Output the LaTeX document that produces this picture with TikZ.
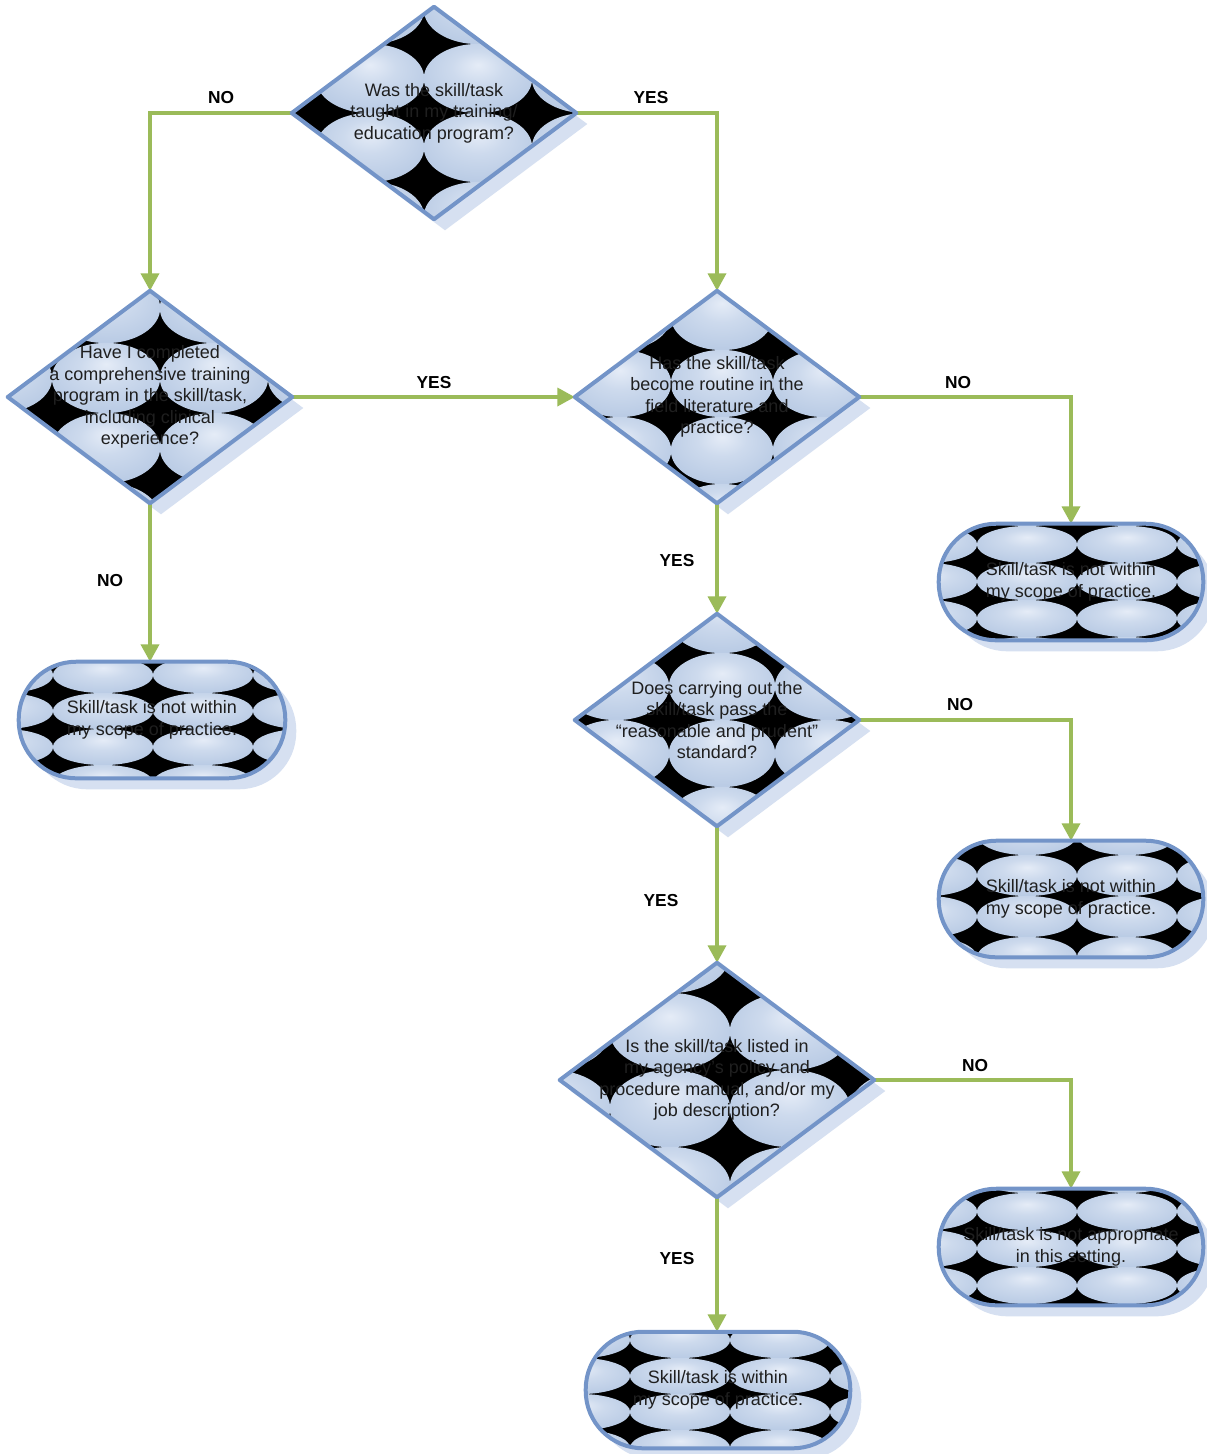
\documentclass[tikz,border=0pt]{standalone}
\usepackage{fontspec}
\setmainfont{Liberation Sans}
\usetikzlibrary{shapes.geometric,arrows.meta,calc}
\definecolor{ellbase}{RGB}{184,202,228}
\definecolor{ellmid}{RGB}{205,218,237}
\definecolor{ellhi}{RGB}{229,236,247}
\definecolor{bordc}{RGB}{115,148,200}
\definecolor{shadc}{RGB}{214,224,241}
\definecolor{flowg}{RGB}{155,187,89}
\pgfdeclareradialshading{ellsh}{\pgfpoint{0bp}{10bp}}{color(0bp)=(ellhi); color(12bp)=(ellmid); color(30bp)=(ellbase); color(50bp)=(ellbase)}
\newcommand\tilegrid[4]{%
  \foreach \i in {-3,...,2}{\foreach \j in {-3,...,2}{%
    \shade[shading=ellsh] ({#1+(\i+0.5)*#3},{#2+(\j+0.5)*#4}) ellipse [x radius={0.502*#3*0.75pt}, y radius={0.502*#4*0.75pt}];
  }}}
\newcommand\dpath[1]{(#1.north) -- (#1.east) -- (#1.south) -- (#1.west) -- cycle}
\newcommand\dshadow[1]{($(#1.north)+(11,11)$) -- ($(#1.east)+(11,11)$) -- ($(#1.south)+(11,11)$) -- ($(#1.west)+(11,11)$) -- cycle}
\newcommand\dfill[5]{%
  \begin{scope}
    \clip \dpath{#1};
    \fill[black] \dpath{#1};
    \tilegrid{#2}{#3}{#4}{#5}
  \end{scope}
  \draw[bord] \dpath{#1};}
\newcommand\tfill[5]{%
  \begin{scope}
    \clip[rounded corners=43pt] (#1.south west) rectangle (#1.north east);
    \fill[black] (#1.south west) rectangle (#1.north east);
    \tilegrid{#2}{#3}{#4}{#5}
  \end{scope}
  \draw[bord, rounded corners=43pt] (#1.south west) rectangle (#1.north east);}
\newcommand\tshadow[1]{\fill[shadc, rounded corners=43pt] ($(#1.south west)+(11,11)$) rectangle ($(#1.north east)+(11,11)$);}
\begin{document}
\begin{tikzpicture}[x=0.75pt, y=-0.75pt,
  dshape/.style={diamond, inner sep=0pt, draw=none, minimum width=213pt, minimum height=159pt},
  bigd/.style={dshape, minimum width=235.5pt, minimum height=175.5pt},
  tshape/.style={rectangle, inner sep=0pt, draw=none, minimum width=198pt, minimum height=87pt},
  bord/.style={draw=bordc, line width=3pt, line join=round},
  conn/.style={draw=flowg, line width=2.6pt, -{Triangle[length=13pt, width=13.5pt]}},
  qtext/.style={align=center, inner sep=0pt, font=\fontsize{13.5pt}{16.1pt}\selectfont, text=black!88},
  lbl/.style={inner sep=0pt, font=\fontsize{13pt}{15pt}\selectfont\bfseries}]
\useasboundingbox (0,0) rectangle (1207,1454);
\fill[white] (0,0) rectangle (1207,1454);
% shape anchors
\node[dshape] (d1) at (434,113) {};
\node[dshape] (d2) at (150,397) {};
\node[dshape] (d3) at (717,397) {};
\node[dshape] (d4) at (717,720) {};
\node[bigd]   (d5) at (717,1080) {};
\node[tshape, minimum width=199.5pt] (t1) at (152,720) {};
\node[tshape] (t2) at (1071,582) {};
\node[tshape] (t3) at (1071,899) {};
\node[tshape] (t4) at (1071,1247) {};
\node[tshape] (t5) at (718,1390) {};
% shadows
\foreach \n in {d1,d2,d3,d4,d5}{\fill[shadc] \dshadow{\n};}
\foreach \n in {t1,t2,t3,t4,t5}{\tshadow{\n}}
% connectors
\draw[conn] (d1.west) -| (d2.north);
\draw[conn] (d1.east) -| (d3.north);
\draw[conn] (d2.east) -- (d3.west);
\draw[conn] (d2.south) -- (d2.south |- t1.north);
\draw[conn] (d3.east) -| (t2.north);
\draw[conn] (d3.south) -- (d4.north);
\draw[conn] (d4.east) -| (t3.north);
\draw[conn] (d4.south) -- (d5.north);
\draw[conn] (d5.east) -| (t4.north);
\draw[conn] (d5.south) -- (d5.south |- t5.north);
% shape bodies
\dfill{d1}{424}{113}{108}{69}
\dfill{d2}{160}{413}{108}{70}
\dfill{d3}{671}{417}{102}{67}
\dfill{d4}{669}{720}{106}{67}
\dfill{d5}{730}{1070}{120}{77}
\tfill{t1}{153}{693}{100}{36}
\tfill{t2}{1077}{563}{100}{37}
\tfill{t3}{1077}{855}{100}{41}
\tfill{t4}{1077}{1230}{100}{37}
\tfill{t5}{730}{1358}{100}{36}
% texts
\node[qtext] (d1t) at (d1.center) {Was the skill/task\\taught in my training/\\education program?};
\node[qtext] (d2t) at (d2.center) {Have I completed\\a comprehensive training\\program in the skill/task,\\including clinical\\experience?};
\node[qtext] (d3t) at (d3.center) {Has the skill/task\\become routine in the\\field literature and\\practice?};
\node[qtext] (d4t) at (d4.center) {Does carrying out the\\skill/task pass the\\“reasonable and prudent”\\standard?};
\node[qtext] (d5t) at (d5.center) {Is the skill/task listed in\\my agency’s policy and\\procedure manual, and/or my\\job description?};
\node[qtext] (t1t) at (t1.center) {Skill/task is not within\\my scope of practice.};
\node[qtext] (t2t) at (t2.center) {Skill/task is not within\\my scope of practice.};
\node[qtext] (t3t) at (t3.center) {Skill/task is not within\\my scope of practice.};
\node[qtext] (t4t) at (t4.center) {Skill/task is not appropriate\\in this setting.};
\node[qtext] (t5t) at (t5.center) {Skill/task is within\\my scope of practice.};
% labels
\node[lbl] (l1) at (221,98) {NO};
\node[lbl] (l2) at (651,98) {YES};
\node[lbl] (l3) at (434,383) {YES};
\node[lbl] (l4) at (110,581) {NO};
\node[lbl] (l5) at (958,383) {NO};
\node[lbl] (l6) at (677,561) {YES};
\node[lbl] (l7) at (960,705) {NO};
\node[lbl] (l8) at (661,901) {YES};
\node[lbl] (l9) at (975,1066) {NO};
\node[lbl] (l10) at (677,1259) {YES};
\end{tikzpicture}
\end{document}
